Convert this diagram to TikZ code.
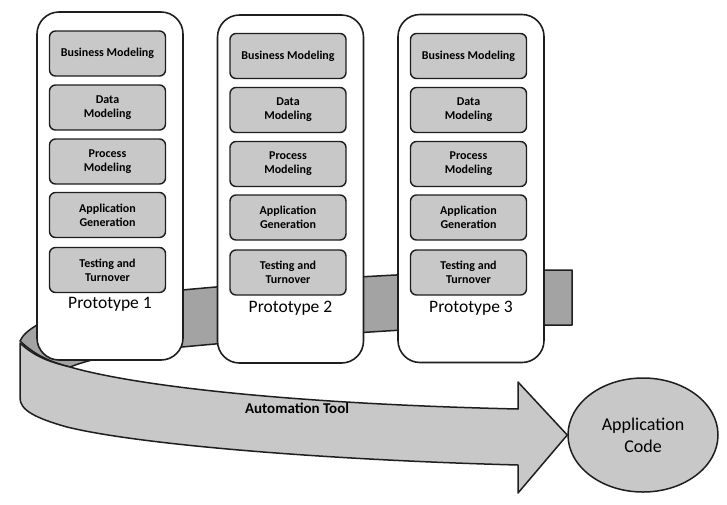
\documentclass[tikz,border=0pt]{standalone}
\usepackage{fontspec}
\setmainfont{Carlito}
\usetikzlibrary{shapes.geometric}
\definecolor{boxgray}{RGB}{200,200,200}
\definecolor{bandgray}{RGB}{163,163,163}
\definecolor{edgegray}{RGB}{30,30,30}
\begin{document}
\begin{tikzpicture}[x=1pt,y=-1pt,
  proto/.style={draw=edgegray, line width=1.6pt, fill=white, rounded corners=22pt,
    minimum width=146pt, minimum height=348pt, inner sep=0pt},
  phase/.style={draw=edgegray, line width=1.4pt, fill=boxgray, rounded corners=6pt,
    minimum width=116pt, minimum height=45pt, inner sep=0pt, align=center,
    font=\bfseries\fontsize{12}{14}\selectfont},
  plabel/.style={inner sep=0pt, font=\fontsize{17.5}{20}\selectfont},
  ribbon/.style={draw=edgegray, line width=1.5pt, line join=round},
]
\useasboundingbox (0,0) rectangle (727,504);

% back part of the ribbon (behind the prototypes)
\path[ribbon, fill=bandgray]
  (572,270) -- (545,270) .. controls (450,271) and (300,279) .. (182,290)
  .. controls (100,298) and (30,318) .. (20,341)
  .. controls (35,355) and (50,362) .. (70,367)
  .. controls (95,357) and (140,349) .. (182,347)
  .. controls (300,336) and (450,325) .. (545,325) -- (572,325) -- cycle;

% prototypes
\foreach \n/\cx/\cy/\dy in {1/110/186/0, 2/290.5/189/2.5, 3/471/188.5/2.5} {
  \node[proto] (p\n) at (\cx,\cy) {};
  \node[phase] (bm\n) at (\cx-2.5,53.5+\dy) {Business Modeling};
  \node[phase] (dm\n) at (\cx-2.5,107.5+\dy) {Data\\Modeling};
  \node[phase] (pm\n) at (\cx-2.5,161.5+\dy) {Process\\Modeling};
  \node[phase] (ag\n) at (\cx-2.5,215+\dy) {Application\\Generation};
  \node[phase] (tt\n) at (\cx-2.5,270+\dy) {Testing and\\Turnover};
  \node[plabel] (lab\n) at (\cx,304+1.5*\dy) {Prototype \n};
}

% application code
\node[ellipse, draw=edgegray, line width=1.5pt, fill=boxgray, inner sep=0pt,
  minimum width=150pt, minimum height=114pt, align=center,
  font=\fontsize{18}{22}\selectfont] (code) at (643,435) {Application\\Code};

% front part of the ribbon: the automation tool arrow
\coordinate (tip) at (code.west);
\path[ribbon, fill=boxgray]
  (20,343) .. controls (35,357) and (50,362) .. (70,367)
  .. controls (140,387) and (300,404) .. (518,409) -- (518,382) -- (tip)
  -- (518,493) -- (518,465)
  .. controls (330,460) and (140,445) .. (67,427)
  .. controls (35,418) and (20,410) .. (20,398) -- cycle;
\node[font=\bfseries\fontsize{15}{18}\selectfont, inner sep=0pt] (tool) at (297,408) {Automation Tool};
\end{tikzpicture}
\end{document}
